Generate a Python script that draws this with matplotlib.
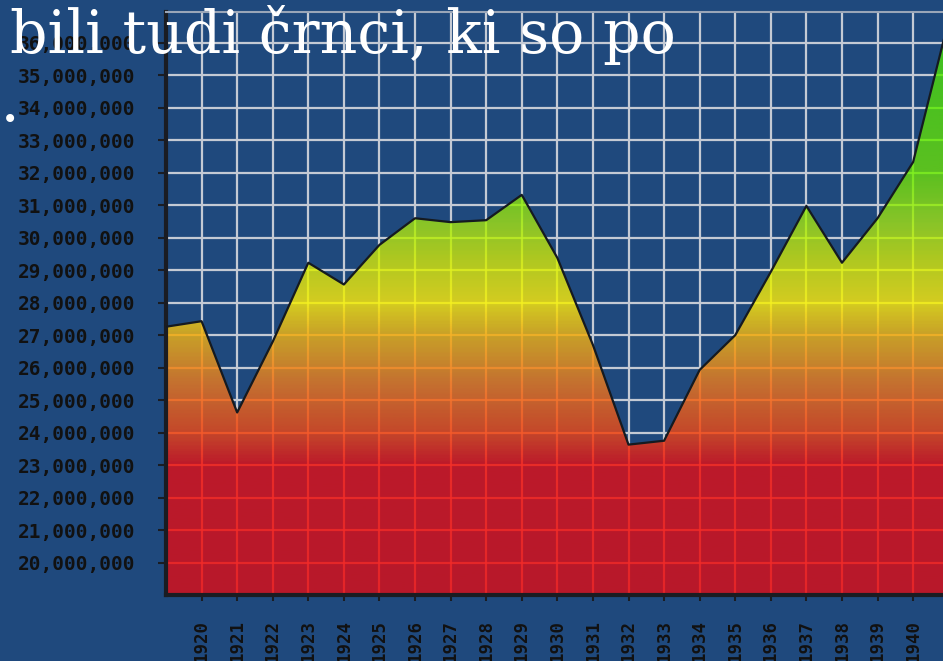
import numpy as np
import matplotlib
matplotlib.use("Agg")
from matplotlib import pyplot as plt
from matplotlib.colors import LinearSegmentedColormap, Normalize
from matplotlib.collections import LineCollection
from matplotlib.ticker import FuncFormatter

# data (1941 is cut off at the right edge)
years = list(range(1919, 1942))
values = [27.26, 27.43, 24.62, 26.8, 29.23, 28.56, 29.78, 30.6, 30.48, 30.54, 31.32,
          29.38, 26.7, 23.63, 23.75, 25.93, 27.0, 28.95, 30.98, 29.23, 30.6, 32.33, 36.7]
values = [v * 1e6 for v in values]
xtick_years = list(range(1920, 1941))
ytick_values = [v * 1e6 for v in range(20, 37)]
overlay_text = "bili tudi črnci, ki so po"

bg = '#1f497d'
ymin, ymax = 19.0e6, 36.95e6
xmin, xmax = 1919, 1940.84

# gradient stops (value in millions, colour)
stops = [(19, '#b8182a'), (23, '#bc1a2a'), (24, '#c4482a'), (25.5, '#c47030'),
         (27, '#c8a028'), (28, '#d4cc20'), (29.3, '#b0c820'), (30.5, '#88c428'),
         (32, '#5cc020'), (36.95, '#38c020')]
bright_stops = [(19, '#f02828'), (23, '#f43028'), (24, '#f45a2a'), (25.5, '#f48030'),
                (27, '#f4b028'), (28, '#f4f020'), (29.3, '#d8f020'), (30.5, '#b0f028'),
                (32, '#80f020'), (36.95, '#60f020')]


def make_cmap(name, st):
    lo, hi = st[0][0], st[-1][0]
    return LinearSegmentedColormap.from_list(name, [((v - lo) / (hi - lo), c) for v, c in st])


cmap = make_cmap('fill', stops)
bright = make_cmap('bright', bright_stops)
norm = Normalize(ymin, ymax)

fig = plt.figure(figsize=(9.43, 6.61), dpi=100, facecolor=bg)
ax = fig.add_axes([166 / 943, 66 / 661, 1 - 166 / 943, 583 / 661])
ax.set_facecolor(bg)
ax.set_xlim(xmin, xmax)
ax.set_ylim(ymin, ymax)

# grid on the blue part
ax.set_axisbelow(True)
ax.set_xticks(xtick_years)
ax.set_yticks(ytick_values)
ax.grid(color='#c4cad4', lw=1.6)

# area with vertical gradient
poly = ax.fill_between(years, values, ymin, facecolor='none', edgecolor='none')
clip = poly.get_paths()[0]
grad = np.linspace(ymin, ymax, 400).reshape(-1, 1)
img = ax.imshow(grad, extent=[xmin, xmax, ymin, ymax], origin='lower', aspect='auto',
                cmap=cmap, norm=Normalize(ymin, ymax), zorder=1)
img.set_clip_path(clip, transform=ax.transData)

# brighter grid lines over the coloured area
segs, cols = [], []
ys = np.linspace(ymin, ymax, 300)
for x in xtick_years:
    for i in range(len(ys) - 1):
        segs.append([(x, ys[i]), (x, ys[i + 1])])
        cols.append(bright(norm((ys[i] + ys[i + 1]) / 2)))
for y in ytick_values:
    segs.append([(xmin, y), (xmax, y)])
    cols.append(bright(norm(y)))
lc = LineCollection(segs, colors=cols, linewidths=1.6, alpha=0.8, zorder=2)
ax.add_collection(lc)
lc.set_clip_path(clip, transform=ax.transData)

ax.plot(years, values, color='#151a20', lw=1.6, zorder=3)

for s in ['left', 'bottom']:
    ax.spines[s].set_color('#1a1c22')
    ax.spines[s].set_linewidth(3)
ax.spines['right'].set_visible(False)
ax.spines['top'].set_color('#9aa6b8')
ax.spines['top'].set_linewidth(1.5)

ax.yaxis.set_major_formatter(FuncFormatter(lambda v, p: f'{int(round(v)):,}'))
ax.tick_params(axis='y', length=6, width=1.5, color='#1a1c22', labelsize=14, pad=16,
               labelcolor='#111111')
ax.tick_params(axis='x', direction='inout', length=8, width=1.5, color='#1a1c22',
               labelsize=12.5, pad=14, labelcolor='#111111', rotation=90)
for lab in ax.get_xticklabels() + ax.get_yticklabels():
    lab.set_family('DejaVu Sans Mono')
    lab.set_weight('bold')

fig.text(10 / 943, 1 - 53 / 661, overlay_text, family='DejaVu Serif', fontsize=42.2,
         color='white', va='baseline', ha='left')
fig.text(10 / 943, 1 - 120 / 661, '•', fontsize=20, color='white', va='center', ha='center')

plt.savefig('out.png', dpi=100, facecolor=bg)
